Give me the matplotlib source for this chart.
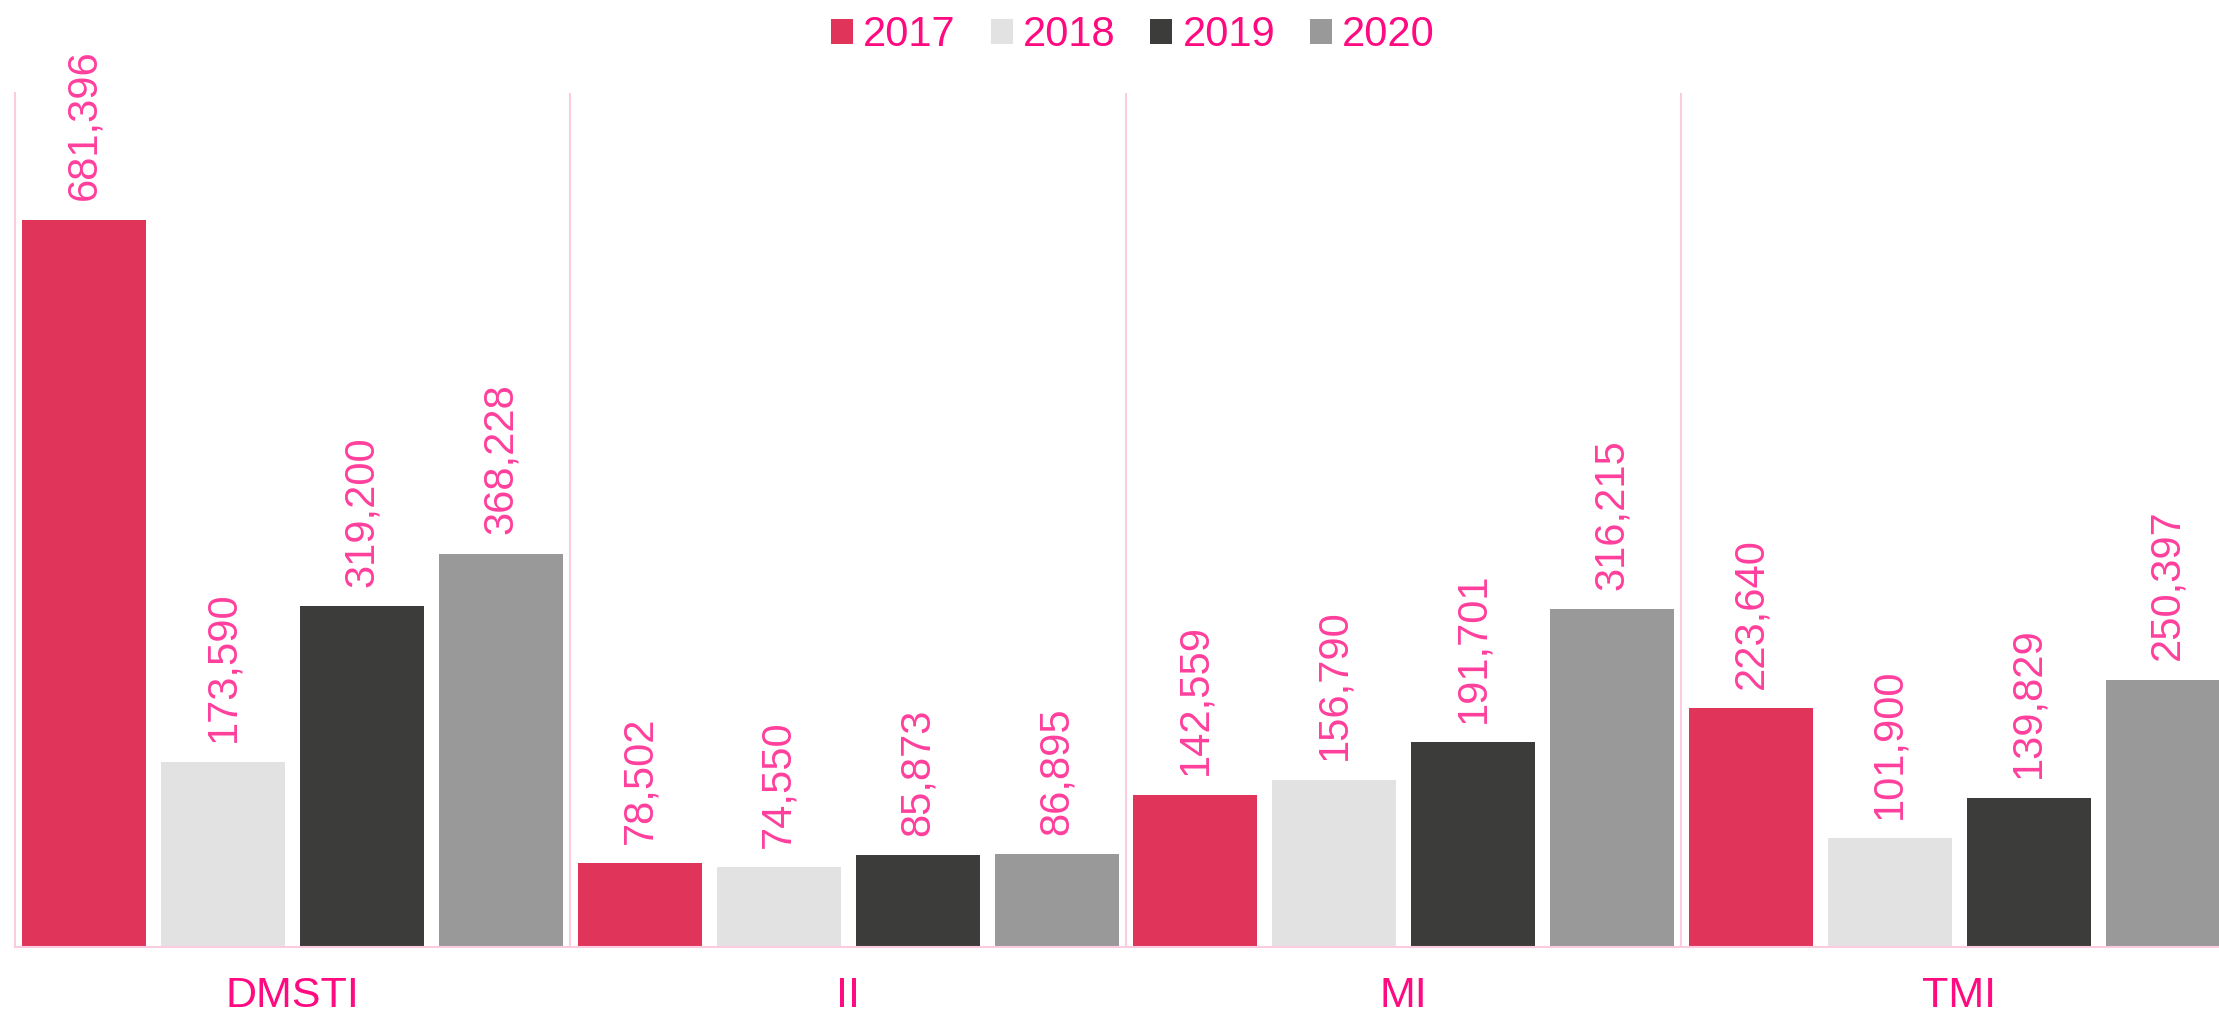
import matplotlib
matplotlib.use("Agg")
import matplotlib.pyplot as plt
from matplotlib.patches import Patch
import numpy as np

# ---------------------------------------------
# Data
# ---------------------------------------------
categories = ["DMSTI", "II", "MI", "TMI"]
years = ["2017", "2018", "2019", "2020"]
values_2017 = [681396, 78502, 142559, 223640]
values_2018 = [173590, 74550, 156790, 101900]
values_2019 = [319200, 85873, 191701, 139829]
values_2020 = [368228, 86895, 316215, 250397]
series = [values_2017, values_2018, values_2019, values_2020]

colors = ["#E1345A", "#E2E2E2", "#3C3C3A", "#999999"]
label_pink = "#FF0A80"
value_pink = "#FF3F9C"
line_pink = "#FBCBE0"

plt.rcParams["font.family"] = ["Liberation Sans", "DejaVu Sans"]

# ---------------------------------------------
# Figure and axes (plot area runs past the right edge)
# ---------------------------------------------
W, H = 2219, 1017
fig = plt.figure(figsize=(W / 100, H / 100), dpi=100)
ax = fig.add_axes([15 / W, 70 / H, 2222 / W, 854 / H])

x = np.arange(len(categories))
bar_w = 0.223
step = 0.25

for i, (vals, col) in enumerate(zip(series, colors)):
    pos = x + (i - 1.5) * step
    ax.bar(pos, vals, width=bar_w, color=col, zorder=2)
    for p, v in zip(pos, vals):
        ax.annotate(f"{v:,}", (p, v), xytext=(0, 14), textcoords="offset points",
                    rotation=90, ha="center", va="bottom",
                    fontsize=30, color=value_pink)

# group separators
for s in [0.5, 1.5, 2.5]:
    ax.axvline(s, color=line_pink, linewidth=1.5, zorder=1)

ax.set_xlim(-0.5, 3.5)
ax.set_ylim(0, 800000)
ax.set_yticks([])
ax.set_xticks(x)
ax.set_xticklabels(categories, fontsize=31, color=label_pink)
ax.tick_params(axis="x", length=0, pad=21)

for side in ["top", "right"]:
    ax.spines[side].set_visible(False)
ax.spines["left"].set_color(line_pink)
ax.spines["bottom"].set_color(line_pink)
ax.spines["left"].set_linewidth(1.5)
ax.spines["bottom"].set_linewidth(1.5)

# ---------------------------------------------
# Legend at the top
# ---------------------------------------------
handles = [Patch(facecolor=c, edgecolor="none", label=y) for c, y in zip(colors, years)]
leg = fig.legend(handles=handles, loc="center", bbox_to_anchor=(1133 / W, 1 - 35 / H),
                 ncol=4, frameon=False, fontsize=30, handlelength=0.53,
                 handleheight=0.53, handletextpad=0.24, columnspacing=0.84,
                 borderpad=0, borderaxespad=0)
for t in leg.get_texts():
    t.set_color(label_pink)

fig.savefig("out.png", dpi=100)
